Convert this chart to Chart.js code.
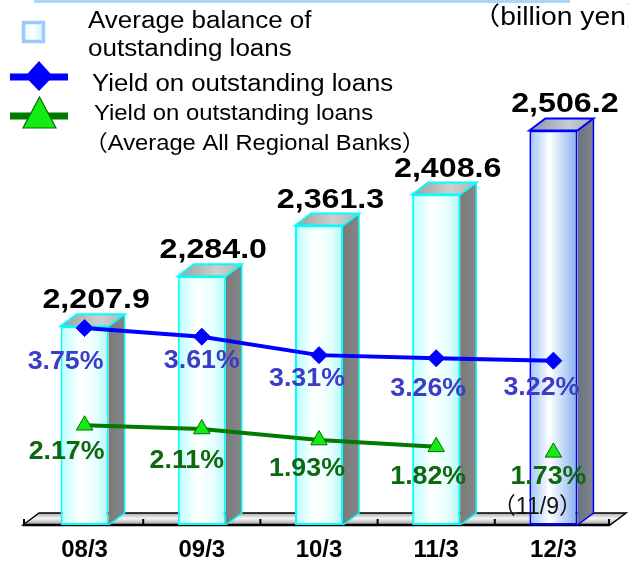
<!DOCTYPE html>
<html>
<head>
<meta charset="utf-8">
<script src="https://cdn.jsdelivr.net/npm/chart.js@4.4.1/dist/chart.umd.min.js"></script>
<style>
  html, body { margin: 0; padding: 0; background: #fff; }
  #wrap { width: 628px; height: 563px; position: relative; }
</style>
</head>
<body>
<div id="wrap"><canvas id="c" width="628" height="563"></canvas></div>
<script>
// Fiscal period ends
const periods = ['08/3', '09/3', '10/3', '11/3', '12/3'];
// Average balance of outstanding loans (billion yen)
const loanBalance = [2207.9, 2284.0, 2361.3, 2408.6, 2506.2];
// Yield on outstanding loans (%)
const loanYield = [3.75, 3.61, 3.31, 3.26, 3.22];
// Yield on outstanding loans, average of all regional banks (%) - last figure is as of 11/9
const regionalYield = [2.17, 2.11, 1.93, 1.82, 1.73];

// Label placement around each line point (dx, dy of text centre)
const yieldLabelShift = [[-19, 34], [0, 24], [-12, 24], [-8, 31], [-12, 27]];
const regionalLabelShift = [[-18, 27], [-15, 32], [-12, 29], [-8, 30], [-5, 25]];

const FONT = "'Liberation Sans', Arial, 'Noto Sans CJK JP', sans-serif";
const DX = 16, DY = 12;          // oblique depth of the 3D columns
const BAR_PCT = 0.41;
const LAST = periods.length - 1;
const BAL_MIN = 1905, BAL_MAX = 2705;

function fmtBalance(v) {
  return v.toLocaleString('en-US', { minimumFractionDigits: 1, maximumFractionDigits: 1 });
}

// Text drawn with a slight horizontal stretch
function wideText(ctx, text, x, y, sx, align, baseline) {
  ctx.save();
  ctx.translate(x, y);
  ctx.scale(sx, 1);
  ctx.textAlign = align || 'left';
  ctx.textBaseline = baseline || 'alphabetic';
  ctx.fillText(text, 0, 0);
  ctx.restore();
}

function frontFill(c) {
  const chart = c.chart;
  const xs = chart.scales.x;
  if (!xs || !chart.chartArea) return '#e8ffff';
  const cx = xs.getPixelForValue(c.dataIndex);
  const half = xs.width / periods.length * BAR_PCT / 2;
  const g = chart.ctx.createLinearGradient(cx - half, 0, cx + half, 0);
  if (c.dataIndex === LAST) {
    g.addColorStop(0, '#9ec2f8');
    g.addColorStop(0.42, '#ffffff');
    g.addColorStop(1, '#86b0f0');
  } else {
    g.addColorStop(0, '#b8ffff');
    g.addColorStop(0.4, '#ffffff');
    g.addColorStop(0.75, '#e6ffff');
    g.addColorStop(1, '#b0f6f6');
  }
  return g;
}

function drawFloor(chart) {
  const ctx = chart.ctx;
  const xs = chart.scales.x;
  const { left, right, bottom } = chart.chartArea;
  const x0 = left - 3, x1 = right - 2, yF = bottom, yB = bottom - DY;
  ctx.save();
  const g = ctx.createLinearGradient(0, yB, 0, yF);
  g.addColorStop(0, '#a8a8a8');
  g.addColorStop(0.45, '#f6f6f6');
  g.addColorStop(1, '#9a9a9a');
  ctx.beginPath();
  ctx.moveTo(x0, yF);
  ctx.lineTo(x0 + DX, yB);
  ctx.lineTo(x1 + DX, yB);
  ctx.lineTo(x1, yF);
  ctx.closePath();
  ctx.fillStyle = g;
  ctx.fill();
  ctx.strokeStyle = '#000';
  ctx.lineWidth = 1.5;
  ctx.stroke();
  ctx.beginPath();
  ctx.lineWidth = 2.5;
  ctx.moveTo(x0, yF);
  ctx.lineTo(x1, yF);
  ctx.stroke();
  ctx.lineWidth = 2;
  for (let i = 0; i <= periods.length; i++) {
    let x = xs.getPixelForValue(i - 0.5);
    if (i === 0) x = x0 + 1;
    if (i === periods.length) x = x1 - 1;
    ctx.beginPath();
    ctx.moveTo(x, yF);
    ctx.lineTo(x, yF - 6);
    ctx.stroke();
  }
  ctx.restore();
}

function drawColumnSides(chart, meta) {
  const ctx = chart.ctx;
  ctx.save();
  meta.data.forEach((el, i) => {
    const { x, y, base, width } = el.getProps(['x', 'y', 'base', 'width'], true);
    const x0 = x - width / 2, x1 = x + width / 2;
    const edge = i === LAST ? '#0000ff' : '#00ffff';
    // side face
    ctx.beginPath();
    ctx.moveTo(x1, y);
    ctx.lineTo(x1 + DX, y - DY);
    ctx.lineTo(x1 + DX, base - DY);
    ctx.lineTo(x1, base);
    ctx.closePath();
    const sg = ctx.createLinearGradient(x1, 0, x1 + DX, 0);
    if (i === LAST) { sg.addColorStop(0, '#6a7282'); sg.addColorStop(1, '#80868e'); }
    else { sg.addColorStop(0, '#7a7a7a'); sg.addColorStop(1, '#868686'); }
    ctx.fillStyle = sg;
    ctx.fill();
    ctx.strokeStyle = edge;
    ctx.lineWidth = 1.5;
    ctx.beginPath();
    ctx.moveTo(x1, base);
    ctx.lineTo(x1 + DX, base - DY);
    ctx.lineTo(x1 + DX, y - DY);
    ctx.stroke();
    // top face
    ctx.beginPath();
    ctx.moveTo(x0, y);
    ctx.lineTo(x0 + DX, y - DY);
    ctx.lineTo(x1 + DX, y - DY);
    ctx.lineTo(x1, y);
    ctx.closePath();
    const tg = ctx.createLinearGradient(x0, 0, x1 + DX, 0);
    if (i === LAST) { tg.addColorStop(0, '#8a94a8'); tg.addColorStop(0.6, '#c6ccd4'); tg.addColorStop(1, '#a8aeb8'); }
    else { tg.addColorStop(0, '#9c9c9c'); tg.addColorStop(0.6, '#cfcfcf'); tg.addColorStop(1, '#b4b4b4'); }
    ctx.fillStyle = tg;
    ctx.fill();
    ctx.lineWidth = 2;
    ctx.strokeStyle = edge;
    ctx.stroke();
  });
  ctx.restore();
}

function drawLabels(chart) {
  const ctx = chart.ctx;
  const { bottom } = chart.chartArea;
  ctx.save();

  // column values
  const barMeta = chart.getDatasetMeta(2);
  ctx.fillStyle = '#000';
  ctx.font = `bold 28px ${FONT}`;
  barMeta.data.forEach((el, i) => {
    wideText(ctx, fmtBalance(loanBalance[i]), el.x + DX / 2 + 3.5, el.y - DY - 6, 1.15, 'center');
  });

  // yield percentages
  ctx.font = `bold 25.5px ${FONT}`;
  const pct = (idx, values, shift, color) => {
    ctx.fillStyle = color;
    chart.getDatasetMeta(idx).data.forEach((p, i) => {
      wideText(ctx, values[i].toFixed(2) + '%', p.x + shift[i][0], p.y + shift[i][1], 1.05, 'center', 'middle');
    });
  };
  pct(0, loanYield, yieldLabelShift, '#3c3cc6');
  pct(1, regionalYield, regionalLabelShift, '#0e680e');

  // date note for the latest regional figure
  ctx.fillStyle = '#111';
  ctx.font = `23px ${FONT}`;
  wideText(ctx, '（11/9）', chart.scales.x.getPixelForValue(LAST) - 16, bottom - 17, 1.0, 'center', 'middle');

  // unit
  ctx.font = `25px ${FONT}`;
  ctx.fillStyle = '#000';
  wideText(ctx, '（billion yen）', 472, 25, 1.13, 'left');

  // top rule
  ctx.fillStyle = '#acd6f8';
  ctx.fillRect(34, 0, 536, 3);

  // legend
  // column swatch
  ctx.lineWidth = 3.5;
  ctx.strokeStyle = '#9ccafa';
  const sq = ctx.createLinearGradient(24, 0, 43, 0);
  sq.addColorStop(0, '#e8fbff');
  sq.addColorStop(0.5, '#ffffff');
  sq.addColorStop(1, '#d2f2ff');
  ctx.fillStyle = sq;
  ctx.fillRect(23.5, 22.5, 20, 19);
  ctx.strokeRect(23.5, 22.5, 20, 19);

  // yield line swatch
  ctx.fillStyle = '#0000ff';
  ctx.fillRect(10, 73.5, 58, 7);
  ctx.beginPath();
  ctx.moveTo(39, 61); ctx.lineTo(53, 76.5); ctx.lineTo(39, 91); ctx.lineTo(25, 76.5);
  ctx.closePath();
  ctx.fill();

  // regional line swatch
  ctx.fillStyle = '#007a00';
  ctx.fillRect(10, 112.5, 58, 7);
  ctx.beginPath();
  ctx.moveTo(39.5, 97); ctx.lineTo(56, 128); ctx.lineTo(23, 128);
  ctx.closePath();
  ctx.fillStyle = '#14ea14';
  ctx.fill();
  ctx.strokeStyle = '#007000';
  ctx.lineWidth = 1.2;
  ctx.stroke();

  ctx.fillStyle = '#000';
  ctx.font = `23px ${FONT}`;
  wideText(ctx, 'Average balance of', 88, 28, 1.13, 'left');
  wideText(ctx, 'outstanding loans', 88, 56, 1.13, 'left');
  wideText(ctx, 'Yield on outstanding loans', 92, 91, 1.12, 'left');
  ctx.font = `21.5px ${FONT}`;
  wideText(ctx, 'Yield on outstanding loans', 94, 120, 1.11, 'left');
  ctx.font = `22px ${FONT}`;
  wideText(ctx, '（Average All Regional Banks）', 84, 150, 1.08, 'left');

  ctx.restore();
}

const columns3d = {
  id: 'columns3d',
  beforeDatasetsDraw(chart) { drawFloor(chart); },
  afterDatasetDraw(chart, args) {
    if (args.meta.type === 'bar') drawColumnSides(chart, args.meta);
  },
  afterDatasetsDraw(chart) { drawLabels(chart); }
};

new Chart(document.getElementById('c'), {
  data: {
    labels: periods,
    datasets: [
      {
        type: 'line',
        label: 'Yield on outstanding loans',
        data: loanYield,
        yAxisID: 'y2',
        borderColor: '#0000ff',
        borderWidth: 4,
        pointStyle: 'rectRot',
        pointRadius: 8.5,
        pointBackgroundColor: '#0000ff',
        pointBorderColor: '#0000ff',
        pointBorderWidth: 1,
        tension: 0,
        order: 0
      },
      {
        type: 'line',
        label: 'Yield on outstanding loans (Average All Regional Banks)',
        data: regionalYield,
        yAxisID: 'y2',
        borderColor: '#007a00',
        borderWidth: 4,
        pointStyle: 'triangle',
        pointRadius: 9.5,
        pointBackgroundColor: '#14ea14',
        pointBorderColor: '#007000',
        pointBorderWidth: 1,
        tension: 0,
        segment: {
          borderColor: s => (s.p1DataIndex === LAST ? 'rgba(0,0,0,0)' : undefined)
        },
        order: 1
      },
      {
        type: 'bar',
        label: 'Average balance of outstanding loans',
        data: loanBalance,
        yAxisID: 'y',
        base: BAL_MIN,
        backgroundColor: frontFill,
        borderColor: c => (c.dataIndex === LAST ? '#0000ff' : '#00ffff'),
        borderWidth: 2,
        borderSkipped: false,
        barPercentage: BAR_PCT,
        categoryPercentage: 1,
        order: 2
      }
    ]
  },
  options: {
    responsive: false,
    animation: false,
    devicePixelRatio: 1,
    layout: { autoPadding: false, padding: { left: 26, right: 16, top: 0, bottom: 0 } },
    plugins: { legend: { display: false }, tooltip: { enabled: false } },
    scales: {
      x: {
        type: 'category',
        grid: { display: false, drawTicks: false },
        border: { display: false },
        ticks: {
          color: '#000',
          padding: 11,
          font: { family: FONT, size: 24, weight: 'bold' }
        },
        afterFit: s => { s.height = 38; }
      },
      y: { display: false, min: BAL_MIN, max: BAL_MAX },
      y2: { display: false, position: 'right', min: 0.55, max: 9.08 }
    }
  },
  plugins: [columns3d]
});
</script>
</body>
</html>
